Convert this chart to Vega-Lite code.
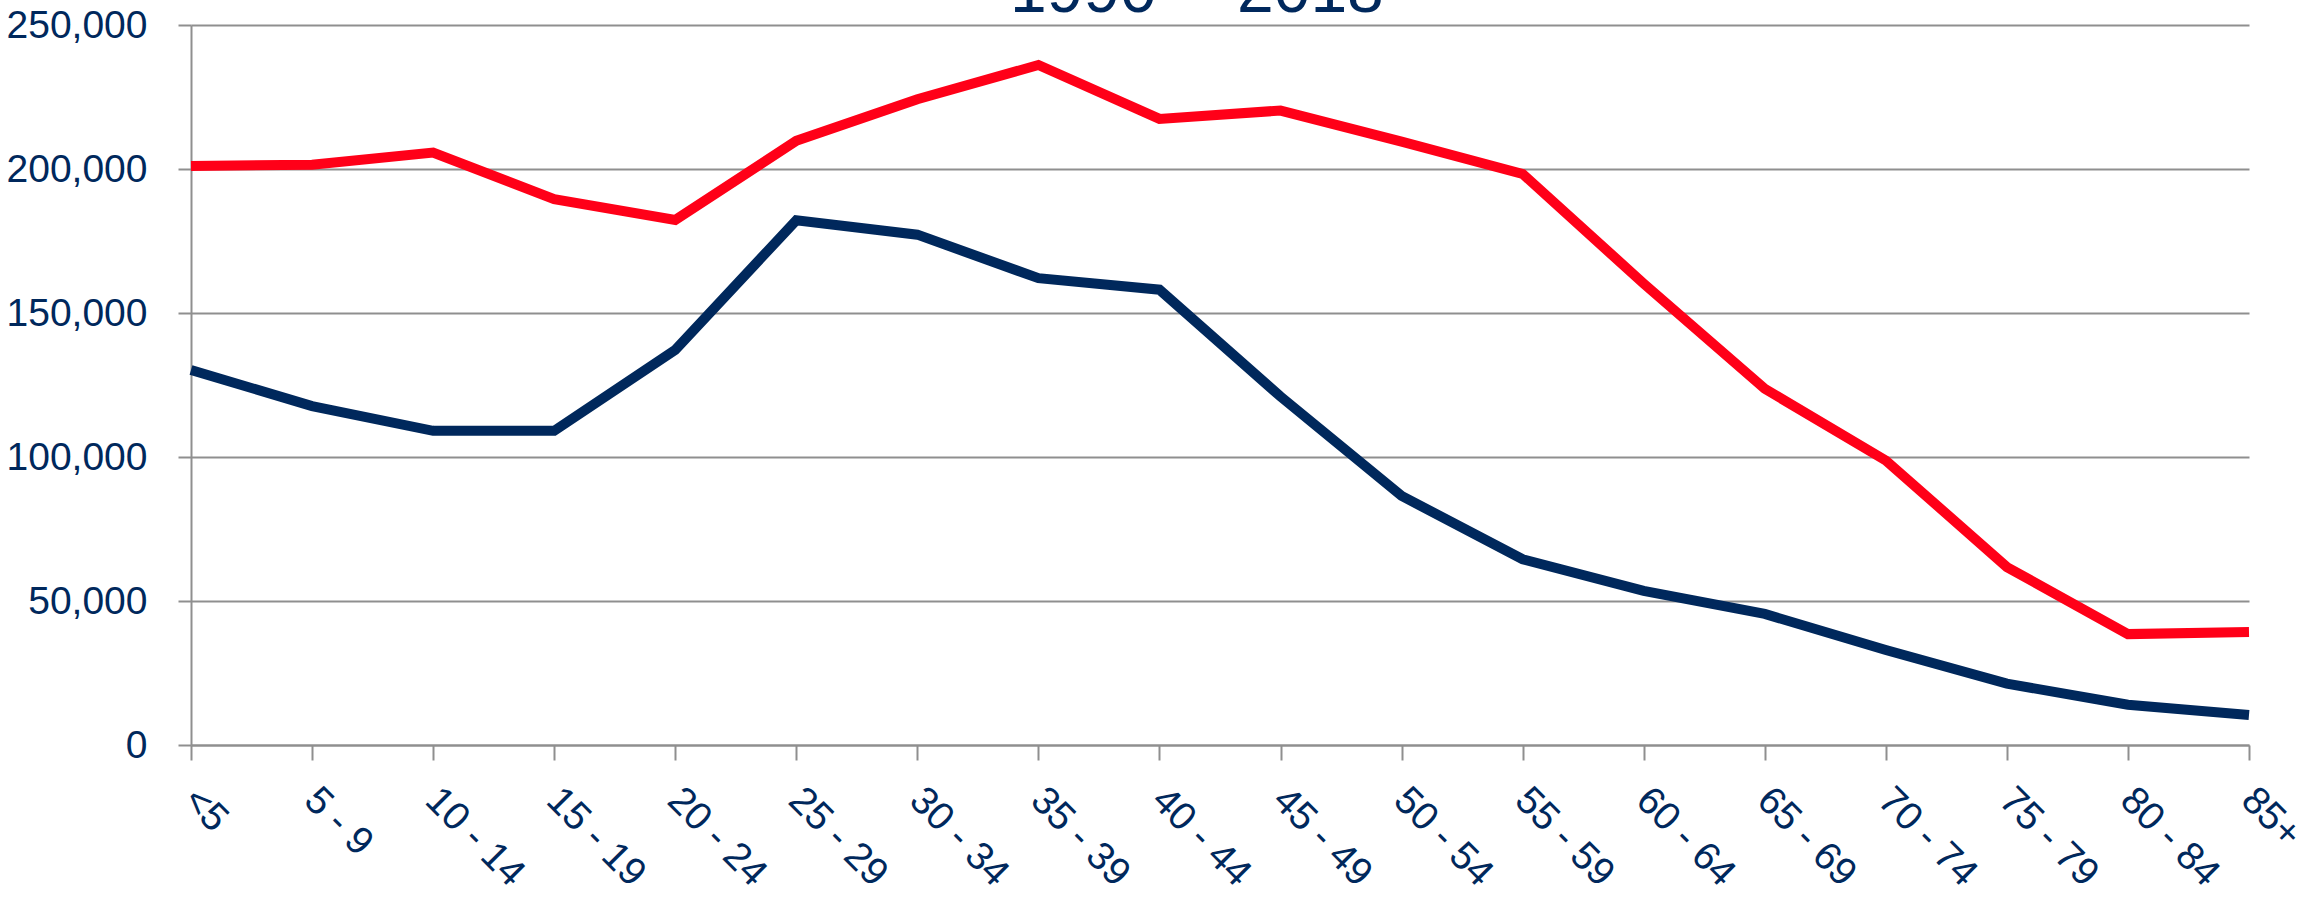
{
  "$schema": "https://vega.github.io/schema/vega-lite/v6.json",
  "width": 2058,
  "height": 720,
  "autosize": {"type": "none"},
  "padding": {"left": 191, "top": 25, "right": 48, "bottom": 152},
  "background": "white",
  "config": {"view": {"stroke": null}, "font": "Liberation Sans"},
  "data": {
    "values": [
      {"age": "<5", "year": "1990", "population": 130200},
      {"age": "5 - 9", "year": "1990", "population": 117700},
      {"age": "10 - 14", "year": "1990", "population": 109100},
      {"age": "15 - 19", "year": "1990", "population": 109100},
      {"age": "20 - 24", "year": "1990", "population": 137200},
      {"age": "25 - 29", "year": "1990", "population": 182200},
      {"age": "30 - 34", "year": "1990", "population": 177200},
      {"age": "35 - 39", "year": "1990", "population": 162100},
      {"age": "40 - 44", "year": "1990", "population": 158100},
      {"age": "45 - 49", "year": "1990", "population": 121000},
      {"age": "50 - 54", "year": "1990", "population": 86500},
      {"age": "55 - 59", "year": "1990", "population": 64500},
      {"age": "60 - 64", "year": "1990", "population": 53500},
      {"age": "65 - 69", "year": "1990", "population": 45500},
      {"age": "70 - 74", "year": "1990", "population": 33000},
      {"age": "75 - 79", "year": "1990", "population": 21300},
      {"age": "80 - 84", "year": "1990", "population": 14000},
      {"age": "85+", "year": "1990", "population": 10400},
      {"age": "<5", "year": "2018", "population": 201000},
      {"age": "5 - 9", "year": "2018", "population": 201500},
      {"age": "10 - 14", "year": "2018", "population": 205700},
      {"age": "15 - 19", "year": "2018", "population": 189500},
      {"age": "20 - 24", "year": "2018", "population": 182300},
      {"age": "25 - 29", "year": "2018", "population": 209800},
      {"age": "30 - 34", "year": "2018", "population": 224200},
      {"age": "35 - 39", "year": "2018", "population": 236100},
      {"age": "40 - 44", "year": "2018", "population": 217400},
      {"age": "45 - 49", "year": "2018", "population": 220300},
      {"age": "50 - 54", "year": "2018", "population": 209500},
      {"age": "55 - 59", "year": "2018", "population": 198300},
      {"age": "60 - 64", "year": "2018", "population": 160200},
      {"age": "65 - 69", "year": "2018", "population": 123700},
      {"age": "70 - 74", "year": "2018", "population": 98800},
      {"age": "75 - 79", "year": "2018", "population": 61800},
      {"age": "80 - 84", "year": "2018", "population": 38500},
      {"age": "85+", "year": "2018", "population": 39200}
    ]
  },
  "mark": {"type": "line", "strokeWidth": 10},
  "encoding": {
    "x": {
      "field": "age",
      "type": "ordinal",
      "scale": {
        "type": "point",
        "padding": 0,
        "domain": ["<5", "5 - 9", "10 - 14", "15 - 19", "20 - 24", "25 - 29", "30 - 34", "35 - 39", "40 - 44", "45 - 49", "50 - 54", "55 - 59", "60 - 64", "65 - 69", "70 - 74", "75 - 79", "80 - 84", "85+"]
      },
      "axis": {
        "title": null,
        "labelAngle": 45,
        "labelAlign": "left",
        "labelBaseline": "alphabetic",
        "labelFont": "Liberation Sans",
        "labelFontSize": 39,
        "labelColor": "#00285C",
        "labelPadding": 42,
        "labelOffset": -10,
        "labelOverlap": false,
        "labelBound": false,
        "labelFlush": false,
        "tickSize": 15,
        "tickWidth": 2,
        "tickColor": "#8f8f8f",
        "domainColor": "#8f8f8f",
        "domainWidth": 2,
        "grid": false
      }
    },
    "y": {
      "field": "population",
      "type": "quantitative",
      "scale": {"domain": [0, 250000], "nice": false},
      "axis": {
        "title": null,
        "values": [0, 50000, 100000, 150000, 200000, 250000],
        "format": ",.0f",
        "labelFont": "Liberation Sans",
        "labelFontSize": 39,
        "labelColor": "#00285C",
        "labelPadding": 31,
        "tickSize": 13,
        "tickWidth": 2,
        "tickColor": "#8f8f8f",
        "domainColor": "#8f8f8f",
        "domainWidth": 2,
        "grid": true,
        "gridColor": "#8f8f8f",
        "gridWidth": 2
      }
    },
    "color": {
      "field": "year",
      "type": "nominal",
      "scale": {"domain": ["1990", "2018"], "range": ["#00285C", "#FF0018"]},
      "legend": {
        "title": null,
        "orient": "none",
        "legendX": 743,
        "legendY": -66,
        "direction": "horizontal",
        "padding": 0,
        "symbolType": "stroke",
        "symbolStrokeWidth": 9,
        "symbolSize": 2500,
        "labelOffset": 10,
        "columnPadding": -6,
        "labelFont": "Liberation Sans",
        "labelFontSize": 66,
        "labelBaseline": "middle",
        "labelColor": "#00285C"
      }
    }
  }
}
